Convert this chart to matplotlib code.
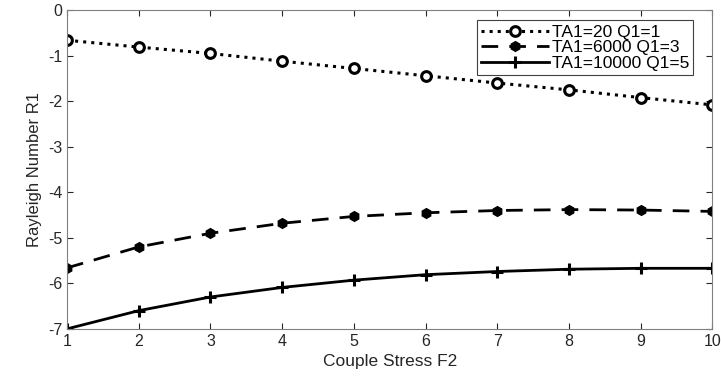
import matplotlib.pyplot as plt

# Data
couple_stress = [1, 2, 3, 4, 5, 6, 7, 8, 9, 10]
r1_ta20 = [-0.66, -0.81, -0.95, -1.12, -1.28, -1.44, -1.60, -1.75, -1.92, -2.08]
r1_ta6000 = [-5.66, -5.20, -4.90, -4.68, -4.53, -4.45, -4.40, -4.38, -4.39, -4.42]
r1_ta10000 = [-7.00, -6.60, -6.30, -6.09, -5.93, -5.81, -5.74, -5.69, -5.67, -5.67]
labels = ['TA1=20 Q1=1', 'TA1=6000 Q1=3', 'TA1=10000 Q1=5']

plt.rcParams['font.family'] = ['Liberation Sans', 'DejaVu Sans']
plt.rcParams['axes.unicode_minus'] = False

fig = plt.figure(figsize=(7.21, 3.78), dpi=100)
ax = fig.add_axes([0.093, 0.13, 0.895, 0.843])

ax.plot(couple_stress, r1_ta20, ':', color='black', lw=2.2, marker='o',
        ms=7, mfc='white', mew=2.2, label=labels[0])
ax.plot(couple_stress, r1_ta6000, '--', color='black', lw=2.0, marker='h',
        ms=7, mfc='black', dashes=(6, 4), label=labels[1])
ax.plot(couple_stress, r1_ta10000, '-', color='black', lw=2.0, marker='+',
        ms=9, mew=2.2, label=labels[2])

ax.set_xlim(1, 10)
ax.set_ylim(-7, 0)
ax.set_xticks(couple_stress)
ax.set_yticks(range(-7, 1))
ax.tick_params(direction='in', top=True, right=True, colors='#262626',
               labelsize=11.5, length=4)
for side in ax.spines.values():
    side.set_color('#808080')
ax.set_xlabel('Couple Stress F2', fontsize=12.5, color='#262626')
ax.set_ylabel('Rayleigh Number R1', fontsize=12, color='#262626')

leg = ax.legend(loc='upper right', bbox_to_anchor=(0.9705, 0.969), fontsize=12.5,
                fancybox=False, framealpha=1, edgecolor='#404040',
                handlelength=3.9, borderpad=0.25, labelspacing=0.02,
                handletextpad=0.15, borderaxespad=0)
leg.get_frame().set_linewidth(0.8)

plt.savefig('out.png', dpi=100)
